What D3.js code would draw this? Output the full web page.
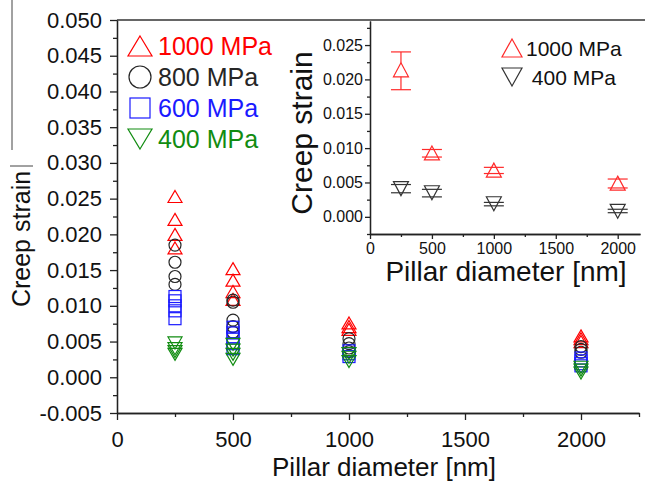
<!DOCTYPE html>
<html>
<head>
<meta charset="utf-8">
<script src="https://cdn.jsdelivr.net/npm/d3@7"></script>
<style>
  body { margin: 0; background: #fff; }
  text { font-family: "Liberation Sans", Arial, sans-serif; }
</style>
</head>
<body>
<div id="container"></div>
<script>
const w = 645;
const h = 484;

// main plot: [pillar diameter nm, creep strain]
const mpa1000 = [[250, 0.0253], [250, 0.0221], [250, 0.0200], [250, 0.0181],
  [500, 0.0152], [500, 0.0136], [500, 0.0120], [500, 0.0109],
  [1000, 0.0076], [1000, 0.0071], [1000, 0.0067],
  [2000, 0.0058], [2000, 0.0054], [2000, 0.0050]];
const mpa800 = [[250, 0.0185], [250, 0.0161], [250, 0.0141], [250, 0.0130],
  [500, 0.0108], [500, 0.0105], [500, 0.0080], [500, 0.0071], [500, 0.0063],
  [1000, 0.0054], [1000, 0.0047], [1000, 0.0041], [1000, 0.0036],
  [2000, 0.0043], [2000, 0.0039], [2000, 0.0035]];
const mpa600 = [[250, 0.0113], [250, 0.0107], [250, 0.0100], [250, 0.0093], [250, 0.0082],
  [500, 0.0070], [500, 0.0062], [500, 0.0055], [500, 0.0047], [500, 0.0040],
  [1000, 0.0037], [1000, 0.0033], [1000, 0.0029],
  [2000, 0.0027], [2000, 0.0023], [2000, 0.0019], [2000, 0.0016]];
const mpa400 = [[250, 0.0048], [250, 0.0040], [250, 0.0036], [250, 0.0032],
  [500, 0.0046], [500, 0.0038], [500, 0.0032], [500, 0.0025],
  [1000, 0.0033], [1000, 0.0028], [1000, 0.0022],
  [2000, 0.0014], [2000, 0.0010], [2000, 0.0006]];
const legendLabels = ["1000 MPa", "800 MPa", "600 MPa", "400 MPa"];
const mainXTicks = [0, 500, 1000, 1500, 2000];
const mainYTicks = [-0.005, 0, 0.005, 0.010, 0.015, 0.020, 0.025, 0.030, 0.035, 0.040, 0.045, 0.050];

// inset: [diameter, mean, low, high]
const inset1000 = [[250, 0.0214, 0.0185, 0.0240], [500, 0.0093, 0.0087, 0.0098],
  [1000, 0.0068, 0.0063, 0.0072], [2000, 0.0049, 0.0042, 0.0055]];
const inset400 = [[250, 0.0041, 0.0035, 0.0047], [500, 0.0035, 0.0029, 0.0040],
  [1000, 0.0019, 0.0016, 0.0021], [2000, 0.0008, 0.0006, 0.0011]];
const insetLabels = ["1000 MPa", " 400 MPa"];
const insetXTicks = [0, 500, 1000, 1500, 2000];
const insetYTicks = [0, 0.005, 0.010, 0.015, 0.020, 0.025];

const red = "#ff0000", black = "#262626", blue = "#1a1aff", green = "#118c11";

const svg = d3.select("#container").append("svg")
  .attr("width", w).attr("height", h);

function triUp(wd, ht) { return "M0," + (-ht / 2) + "L" + (wd / 2) + "," + (ht / 2) + "L" + (-wd / 2) + "," + (ht / 2) + "Z"; }
function triDown(wd, ht) { return "M0," + (ht / 2) + "L" + (wd / 2) + "," + (-ht / 2) + "L" + (-wd / 2) + "," + (-ht / 2) + "Z"; }

// ---- main plot
const x = d3.scaleLinear().domain([0, 2250]).range([117, 639]);
const y = d3.scaleLinear().domain([-0.005, 0.050]).range([413, 20]);
const fmt = (d) => d.toFixed(3);

const yAxis = svg.append("g").attr("transform", "translate(117,0)")
  .call(d3.axisLeft(y).tickValues(mainYTicks).tickFormat(fmt).tickSize(7).tickSizeOuter(0).tickPadding(8));
svg.append("g").attr("transform", "translate(117,0)")
  .call(d3.axisLeft(y).tickValues(mainYTicks.slice(0, -1).map((d) => d + 0.0025)).tickFormat("").tickSize(4).tickSizeOuter(0));
const xAxis = svg.append("g").attr("transform", "translate(0,413)")
  .call(d3.axisBottom(x).tickValues(mainXTicks).tickFormat(d3.format("d")).tickSize(7).tickSizeOuter(0).tickPadding(11));
svg.append("g").attr("transform", "translate(0,413)")
  .call(d3.axisBottom(x).tickValues([250, 750, 1250, 1750, 2250]).tickFormat("").tickSize(4).tickSizeOuter(0));
svg.selectAll(".domain, .tick line").attr("stroke", "#111").attr("stroke-width", 1.4);
yAxis.selectAll("text").attr("font-size", 22).attr("fill", "#111");
xAxis.selectAll("text").attr("font-size", 22).attr("fill", "#111");

svg.append("line").attr("x1", 117).attr("x2", 645).attr("y1", 20).attr("y2", 20)
  .attr("stroke", "#333").attr("stroke-width", 1.4);

svg.append("text").attr("x", 384).attr("y", 476).attr("text-anchor", "middle")
  .attr("font-size", 26).attr("fill", "#111").text("Pillar diameter [nm]");
svg.append("text").attr("transform", "translate(30,239) rotate(-90)").attr("text-anchor", "middle")
  .attr("font-size", 25).attr("fill", "#111").text("Creep strain");

// stray lines at the left edge of the source image
svg.append("line").attr("x1", 12).attr("x2", 12).attr("y1", 0).attr("y2", 150).attr("stroke", "#444").attr("stroke-width", 1);
svg.append("line").attr("x1", 10).attr("x2", 33).attr("y1", 166).attr("y2", 166).attr("stroke", "#444").attr("stroke-width", 1);

const plot = svg.append("g").attr("fill", "none").attr("stroke-width", 1.2);
plot.selectAll(".p1000").data(mpa1000).enter().append("path").attr("class", "p1000")
  .attr("d", triUp(14, 12)).attr("stroke", red)
  .attr("transform", (d) => "translate(" + x(d[0]) + "," + y(d[1]) + ")");
plot.selectAll(".p800").data(mpa800).enter().append("circle").attr("class", "p800")
  .attr("cx", (d) => x(d[0])).attr("cy", (d) => y(d[1])).attr("r", 6).attr("stroke", black);
plot.selectAll(".p600").data(mpa600).enter().append("rect").attr("class", "p600")
  .attr("x", (d) => x(d[0]) - 6).attr("y", (d) => y(d[1]) - 6).attr("width", 12).attr("height", 12)
  .attr("stroke", blue);
plot.selectAll(".p400").data(mpa400).enter().append("path").attr("class", "p400")
  .attr("d", triDown(14, 12)).attr("stroke", green)
  .attr("transform", (d) => "translate(" + x(d[0]) + "," + y(d[1]) + ")");

// main legend
const lg = svg.append("g");
const lgColors = [red, black, blue, green];
legendLabels.forEach(function (t, i) {
  const cy = 46 + i * 31;
  if (i === 0) lg.append("path").attr("d", triUp(24, 20)).attr("transform", "translate(140," + cy + ")");
  if (i === 1) lg.append("circle").attr("cx", 140).attr("cy", cy).attr("r", 11);
  if (i === 2) lg.append("rect").attr("x", 130).attr("y", cy - 10).attr("width", 20).attr("height", 20);
  if (i === 3) lg.append("path").attr("d", triDown(24, 20)).attr("transform", "translate(140," + cy + ")");
  lg.select(":last-child").attr("fill", "none").attr("stroke", lgColors[i]).attr("stroke-width", 1.2);
  lg.append("text").attr("x", 158).attr("y", cy + 9).attr("font-size", 25).attr("fill", lgColors[i]).text(t);
});

// ---- inset
const ix = d3.scaleLinear().domain([0, 2180]).range([370, 640]);
const iy = d3.scaleLinear().domain([-0.0025, 0.0285]).range([234, 21]);
svg.append("rect").attr("x", 370).attr("y", 21).attr("width", 275).attr("height", 213).attr("fill", "#fff");

const iyAxis = svg.append("g").attr("transform", "translate(370,0)")
  .call(d3.axisLeft(iy).tickValues(insetYTicks).tickFormat(fmt).tickSize(5).tickSizeOuter(0).tickPadding(2));
svg.append("g").attr("transform", "translate(370,0)")
  .call(d3.axisLeft(iy).tickValues([-0.0025, 0.0025, 0.0075, 0.0125, 0.0175, 0.0225, 0.0275]).tickFormat("").tickSize(3).tickSizeOuter(0));
const ixAxis = svg.append("g").attr("transform", "translate(0,234)")
  .call(d3.axisBottom(ix).tickValues(insetXTicks).tickFormat(d3.format("d")).tickSize(5).tickSizeOuter(0).tickPadding(4));
svg.append("g").attr("transform", "translate(0,234)")
  .call(d3.axisBottom(ix).tickValues([250, 750, 1250, 1750]).tickFormat("").tickSize(3).tickSizeOuter(0));
iyAxis.selectAll("text").attr("font-size", 16).attr("fill", "#111");
ixAxis.selectAll("text").attr("font-size", 16).attr("fill", "#111");
svg.selectAll(".domain, .tick line").attr("stroke", "#222").attr("stroke-width", 1.3);

svg.append("text").attr("x", 506).attr("y", 281).attr("text-anchor", "middle")
  .attr("font-size", 28).attr("fill", "#111").text("Pillar diameter [nm]");
svg.append("text").attr("transform", "translate(312,133) rotate(-90)").attr("text-anchor", "middle")
  .attr("font-size", 30).attr("fill", "#111").text("Creep strain");

function errBars(data, col, half) {
  const g = svg.append("g").attr("stroke", col).attr("stroke-width", 1.2);
  data.forEach(function (d) {
    const cx = ix(d[0]), cy = iy(d[1]), top = iy(d[3]), bot = iy(d[2]);
    if (top < cy - half) g.append("line").attr("x1", cx).attr("x2", cx).attr("y1", top).attr("y2", cy - half);
    if (bot > cy + half) g.append("line").attr("x1", cx).attr("x2", cx).attr("y1", cy + half).attr("y2", bot);
    g.append("line").attr("x1", cx - 10).attr("x2", cx + 10).attr("y1", top).attr("y2", top);
    g.append("line").attr("x1", cx - 10).attr("x2", cx + 10).attr("y1", bot).attr("y2", bot);
  });
}
const ired = "#ff2a2a", igray = "#333";
errBars(inset1000, ired, 7);
errBars(inset400, igray, 7);
svg.selectAll(".i1000").data(inset1000).enter().append("path").attr("class", "i1000")
  .attr("d", triUp(15, 14)).attr("fill", "none").attr("stroke", ired).attr("stroke-width", 1.2)
  .attr("transform", (d) => "translate(" + ix(d[0]) + "," + iy(d[1]) + ")");
svg.selectAll(".i400").data(inset400).enter().append("path").attr("class", "i400")
  .attr("d", triDown(15, 14)).attr("fill", "none").attr("stroke", igray).attr("stroke-width", 1.2)
  .attr("transform", (d) => "translate(" + ix(d[0]) + "," + iy(d[1]) + ")");

// inset legend
svg.append("path").attr("d", triUp(20, 18)).attr("transform", "translate(512,48)")
  .attr("fill", "none").attr("stroke", ired).attr("stroke-width", 1.2);
svg.append("path").attr("d", triDown(20, 18)).attr("transform", "translate(512,77)")
  .attr("fill", "none").attr("stroke", igray).attr("stroke-width", 1.2);
svg.append("text").attr("x", 526).attr("y", 56).attr("font-size", 21).attr("fill", "#111").text(insetLabels[0]);
svg.append("text").attr("x", 526).attr("y", 85).attr("font-size", 21).attr("fill", "#111").attr("xml:space", "preserve").text(insetLabels[1]);
</script>
</body>
</html>
